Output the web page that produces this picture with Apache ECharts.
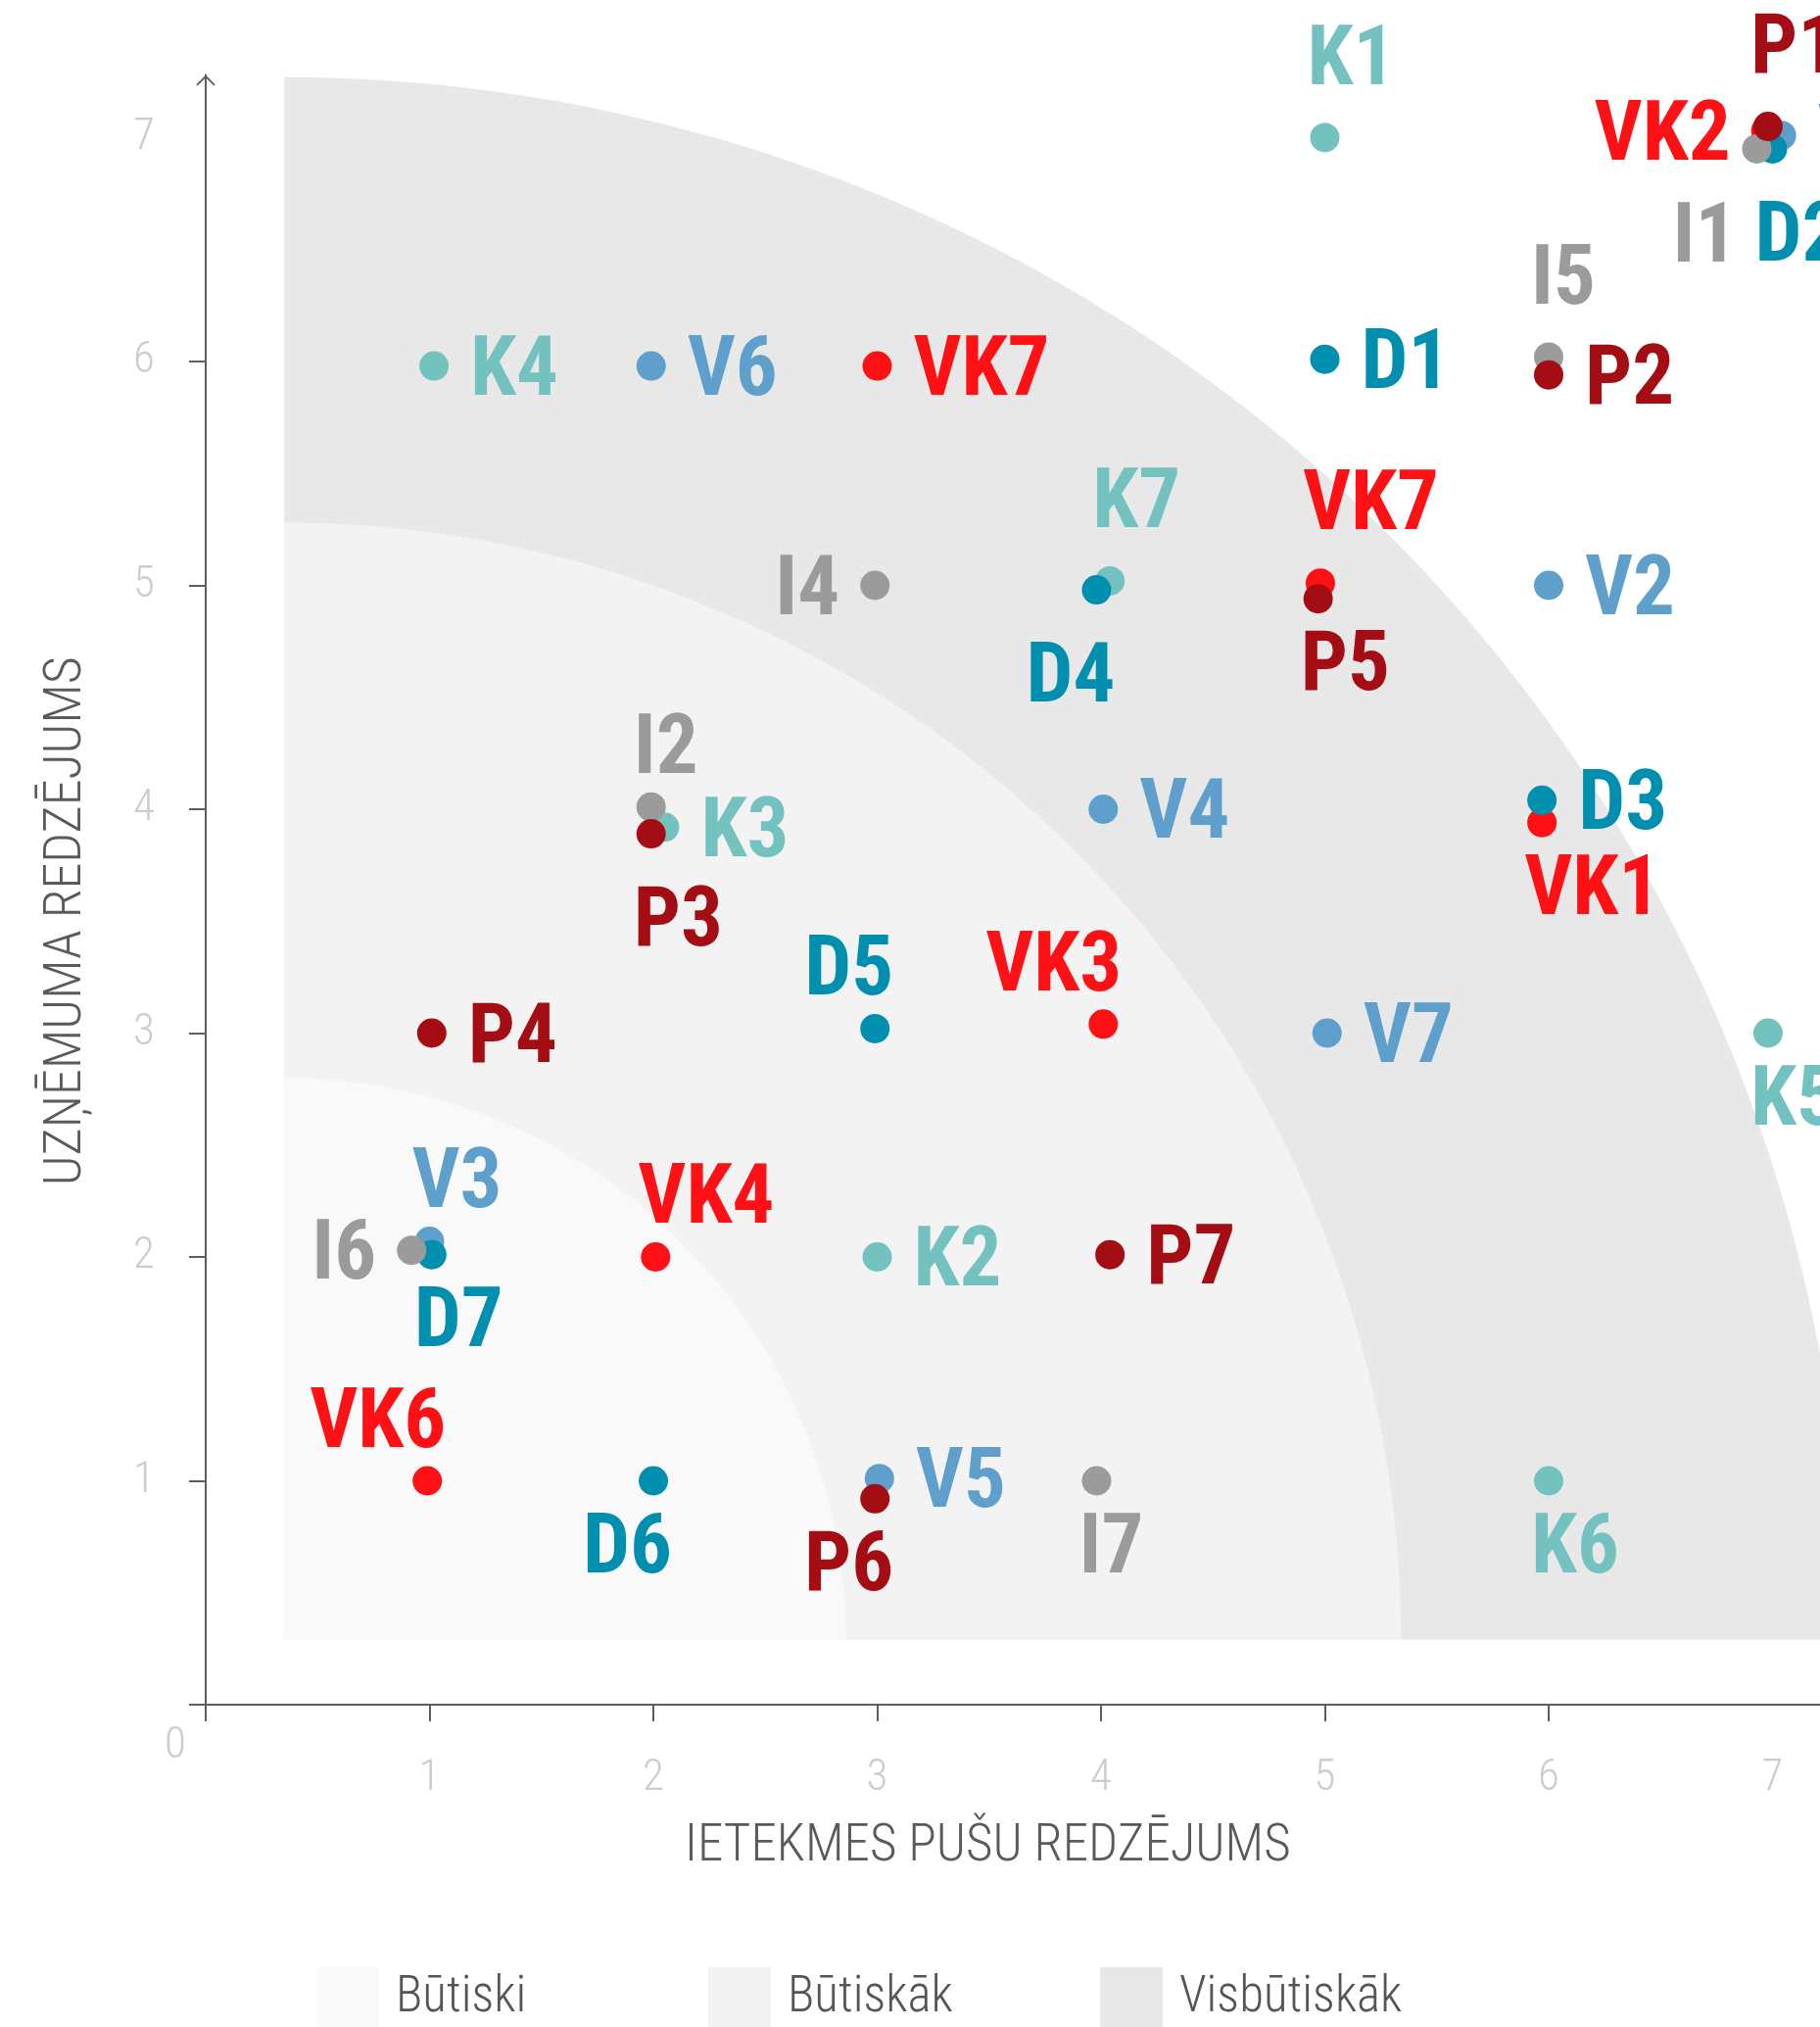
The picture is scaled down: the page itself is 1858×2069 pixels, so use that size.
<!DOCTYPE html>
<html>
<head>
<meta charset="utf-8">
<script src="https://cdn.jsdelivr.net/npm/echarts@6/dist/echarts.min.js"></script>
<style>
  html, body { margin: 0; padding: 0; background: #fff; overflow: hidden; }
  #chart { width: 2100px; height: 2069px; }
</style>
</head>
<body>
<div id="chart"></div>
<script>
// zones: [centre x, centre y, radius]
var zoneNames = ['Visbūtiskāk', 'Būtiskāk', 'Būtiski'];
var zoneColors = ['#e8e8e8', '#f3f3f3', '#f9f9f9'];
var zoneShapes = [[0.35, 0.29, 6.98], [0.35, 0.29, 4.99], [0.35, 0.29, 2.51]];

// K group
var kNames = ['K1', 'K2', 'K3', 'K4', 'K5', 'K6', 'K7'];
var kPoints = [[5, 7], [3, 2], [2.05, 3.92], [1.02, 5.98], [6.98, 3], [6, 1], [4.04, 5.02]];
var kPlace = ['T', 'R', 'R', 'R', 'B', 'B', 'T'];

// V group
var vNames = ['V1', 'V2', 'V3', 'V4', 'V5', 'V6', 'V7'];
var vPoints = [[7.04, 7.01], [6, 5], [1, 2.07], [4.01, 4], [3.01, 1.01], [1.99, 5.98], [5.01, 3]];
var vPlace = ['R', 'R', 'TN', 'R', 'R', 'R', 'R'];

// VK group (VK7 appears twice in the source)
var vkNames = ['VK1', 'VK2', 'VK3', 'VK4', 'VK6', 'VK7', 'VK7'];
var vkPoints = [[5.97, 3.94], [6.97, 7.03], [4.01, 3.04], [2.01, 2], [0.99, 1], [3, 5.98], [4.98, 5.01]];
var vkPlace = ['B', 'L', 'TR', 'TN', 'TR', 'R', 'T'];

// D group
var dNames = ['D1', 'D2', 'D3', 'D4', 'D5', 'D6', 'D7'];
var dPoints = [[5, 6.01], [7, 6.95], [5.97, 4.04], [3.98, 4.98], [2.99, 3.02], [2, 1], [1.01, 2.01]];
var dPlace = ['R', 'BF', 'R', 'BRF', 'TR', 'BR', 'B'];

// I group
var iNames = ['I1', 'I2', 'I4', 'I5', 'I6', 'I7'];
var iPoints = [[6.93, 6.95], [1.99, 4.01], [2.99, 5], [6, 6.02], [0.92, 2.03], [3.98, 1]];
var iPlace = ['BL', 'TN', 'L', 'T', 'L', 'B'];

// P group
var pNames = ['P1', 'P2', 'P3', 'P4', 'P5', 'P6', 'P7'];
var pPoints = [[6.98, 7.05], [6, 5.94], [1.99, 3.89], [1.01, 3], [4.97, 4.94], [2.99, 0.92], [4.04, 2.01]];
var pPlace = ['T', 'R', 'BF', 'R', 'B', 'BR', 'R'];

var xTickValues = [0, 1, 2, 3, 4, 5, 6];
var xLabelValues = [0, 1, 2, 3, 4, 5, 6, 7];
var yTickValues = [0, 1, 2, 3, 4, 5, 6];
var yLabelValues = [1, 2, 3, 4, 5, 6, 7];

var FONT = '"Roboto Condensed", "Liberation Sans Narrow", "DejaVu Sans Condensed", Roboto, sans-serif';
var AXIS_COLOR = '#5e5e5e';
var CHEVRON = 'path://M0,10 L10,0 L20,10 L18.6,11.4 L10,2.8 L1.4,11.4 Z';

// label placement around the dot
var PLACE = {
    R:   { align: 'left',  offset: [37, 8] },
    L:   { align: 'right', offset: [-36, 8] },
    T:   { align: 'left',  offset: [-18, -76] },
    TN:  { align: 'left',  offset: [-18, -56] },
    TR:  { align: 'right', offset: [19, -56] },
    B:   { align: 'left',  offset: [-18, 72] },
    BF:  { align: 'left',  offset: [-18, 93] },
    BR:  { align: 'right', offset: [19, 72] },
    BRF: { align: 'right', offset: [19, 93] },
    BL:  { align: 'right', offset: [-20, 94] }
};

function zoneSeries(i) {
    return {
        type: 'custom',
        name: zoneNames[i],
        silent: true,
        clip: false,
        itemStyle: { color: zoneColors[i] },
        data: [zoneShapes[i]],
        renderItem: function (params, api) {
            var cx = api.value(0), cy = api.value(1), r = api.value(2);
            var pts = [api.coord([cx, cy])];
            for (var k = 0; k <= 90; k++) {
                var a = k / 90 * Math.PI / 2;
                pts.push(api.coord([cx + r * Math.cos(a), cy + r * Math.sin(a)]));
            }
            return { type: 'polygon', shape: { points: pts }, style: { fill: api.visual('color') } };
        }
    };
}

function pointSeries(name, color, names, points, place) {
    return {
        type: 'scatter',
        name: name,
        symbolSize: 30,
        itemStyle: { color: color, opacity: 1 },
        label: {
            show: true,
            position: 'inside',
            verticalAlign: 'middle',
            formatter: '{b}',
            color: color,
            fontFamily: FONT,
            fontWeight: 'bold',
            fontSize: 85,
            lineHeight: 85
        },
        emphasis: { disabled: true },
        data: names.map(function (n, i) {
            var p = PLACE[place[i]];
            return { name: n, value: points[i], label: { align: p.align, offset: p.offset } };
        })
    };
}

function legendFor(name, left) {
    return {
        data: [{ name: name, icon: 'rect' }],
        left: left,
        top: 2008,
        padding: 0,
        itemWidth: 64,
        itemHeight: 64,
        selectedMode: false,
        textStyle: { fontFamily: FONT, fontWeight: 300, fontSize: 51, color: '#555555', padding: [18, 0, 0, 12] }
    };
}

var chart = echarts.init(document.getElementById('chart'), null, { renderer: 'canvas' });

chart.setOption({
    backgroundColor: '#ffffff',
    animation: false,
    grid: { left: 210, top: 76.5, width: 1736.6, height: 1663.5 },
    legend: [
        legendFor('Būtiski', 323),
        legendFor('Būtiskāk', 723),
        legendFor('Visbūtiskāk', 1123)
    ],
    xAxis: {
        type: 'value',
        min: 0,
        max: 7.6,
        interval: 1,
        splitLine: { show: false },
        name: 'IETEKMES PUŠU REDZĒJUMS',
        nameLocation: 'middle',
        nameGap: 119,
        nameTextStyle: { fontFamily: FONT, fontWeight: 300, fontSize: 53, lineHeight: 53, color: '#5a5a5a', padding: [0, 140, 0, 0] },
        axisLine: {
            onZero: false,
            lineStyle: { color: AXIS_COLOR, width: 2 },
            symbol: ['none', CHEVRON],
            symbolSize: [20, 11],
            symbolOffset: [0, -5.5]
        },
        axisTick: { length: 17, lineStyle: { color: AXIS_COLOR, width: 2 }, customValues: xTickValues },
        axisLabel: {
            customValues: xLabelValues,
            margin: 76,
            verticalAlign: 'middle',
            color: '#cccccc',
            fontFamily: FONT,
            fontWeight: 300,
            fontSize: 45,
            formatter: function (v) { return v === 0 ? '{zero|0}' : String(v); },
            rich: { zero: { fontFamily: FONT, fontWeight: 300, fontSize: 45, color: '#cccccc', padding: [0, 62, 66, 0] } }
        }
    },
    yAxis: {
        type: 'value',
        min: 0,
        max: 7.28,
        interval: 1,
        splitLine: { show: false },
        name: 'UZŅĒMUMA REDZĒJUMS',
        nameLocation: 'middle',
        nameGap: 115,
        nameTextStyle: { fontFamily: FONT, fontWeight: 300, fontSize: 54, lineHeight: 54, color: '#5a5a5a', padding: [0, 64, 0, 0] },
        axisLine: {
            onZero: false,
            lineStyle: { color: AXIS_COLOR, width: 2 },
            symbol: ['none', CHEVRON],
            symbolSize: [20, 11],
            symbolOffset: [0, -5.5]
        },
        axisTick: { length: 17, lineStyle: { color: AXIS_COLOR, width: 2 }, customValues: yTickValues },
        axisLabel: {
            customValues: yLabelValues,
            margin: 52,
            color: '#cccccc',
            fontFamily: FONT,
            fontWeight: 300,
            fontSize: 45
        }
    },
    series: [
        zoneSeries(0),
        zoneSeries(1),
        zoneSeries(2),
        pointSeries('K', '#74c2c0', kNames, kPoints, kPlace),
        pointSeries('V', '#5f9fcc', vNames, vPoints, vPlace),
        pointSeries('VK', '#ff1015', vkNames, vkPoints, vkPlace),
        pointSeries('D', '#008fae', dNames, dPoints, dPlace),
        pointSeries('I', '#9b9b9b', iNames, iPoints, iPlace),
        pointSeries('P', '#a50d15', pNames, pPoints, pPlace)
    ]
});
</script>
</body>
</html>
